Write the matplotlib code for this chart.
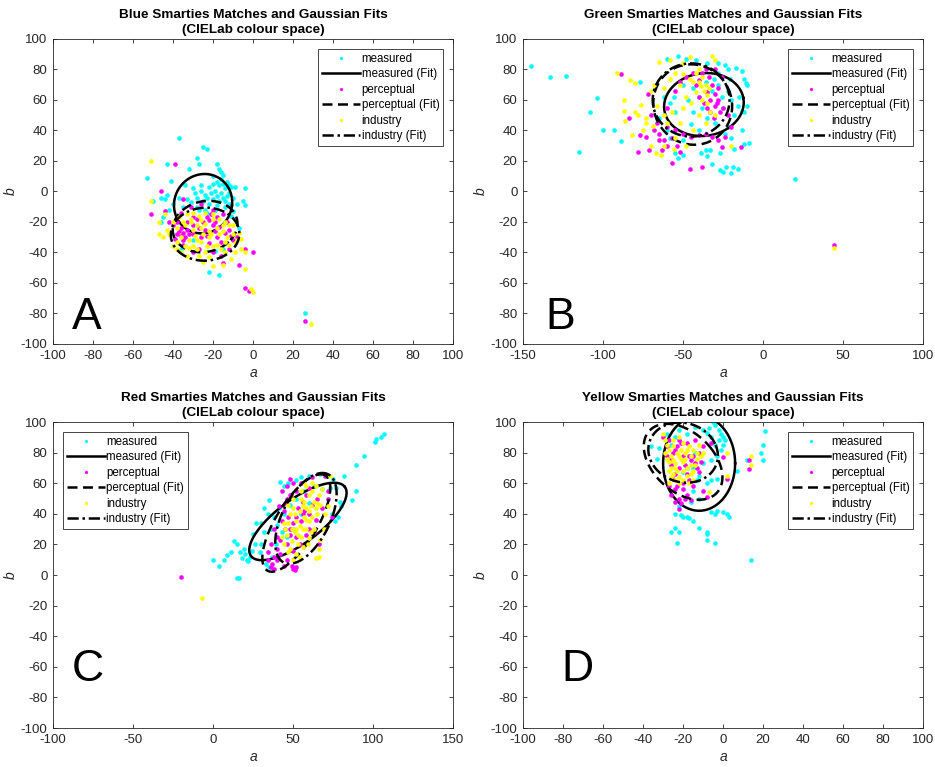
import numpy as np
import matplotlib
matplotlib.use("Agg")
import matplotlib.pyplot as plt

plt.rcParams['font.family'] = ['Liberation Sans', 'DejaVu Sans']
plt.rcParams['axes.unicode_minus'] = False

# ---------------- data (a, b) ----------------
blue_measured = [(-37,35),(-25,29),(-23,28),(-28,22),(-27,18),(-43,18),(-18,18),(-17,15),(-16,13),(-15,11),
    (-32,15),(-53,9),(-41,7),(-34,4),(-30,2),(-26,0),(-24,-2),(-22,3),(-20,5),(-18,6),(-17,4),(-19,0),(-16,-1),
    (-14,2),(-13,6),(-12,4),(-11,3),(-9,3),(-4,2),(-5,-6),(-4,-9),(-15,-4),(-17,-6),(-20,-5),(-22,-8),(-25,-6),
    (-28,-4),(-31,-7),(-33,-5),(-35,-10),(-37,-4),(-40,-8),(-43,-2),(-44,-5),(-46,-4),(-50,-6),(-42,-12),(-45,-17),
    (-46,-20),(-14,-10),(-12,-8),(-10,-13),(-9,-18),(-7,-24),(-11,-16),(-19,-12),(-24,-12),(-28,-10),(-19,-39),
    (-15,-38),(-22,-53),(-17,-55),(26,-80),(-36,-38),(-30,-32),(-21,-1),(-13,-3),(-18,-9),(-23,-4),(-16,8),(-20,10),
    (-27,-12),(-23,-14),(-14,-6),(-12,-1),(-10,-4),(-8,-8),(-15,5),(-18,-3),(-26,4),(-29,-1)]
blue_perceptual = [(-39,18),(-46,0),(-44,-13),(-51,-15),(-35,-5),(-36,-14),(-31,-10),(-26,-8),(-20,-12),(-15,-15),
    (-28,-18),(-25,-20),(-22,-19),(-20,-22),(-18,-17),(-24,-25),(-30,-22),(-33,-25),(-35,-27),(-36,-29),(-37,-26),
    (-34,-30),(-38,-28),(-36,-24),(-32,-28),(-30,-28),(-26,-30),(-22,-34),(-18,-30),(-14,-27),(-12,-25),(-10,-32),
    (-12,-38),(-16,-42),(-20,-40),(-27,-38),(-30,-40),(-40,-22),(-42,-20),(-4,-38),(0,-40),(-7,-48),(-4,-63),
    (-2,-65),(26,-85),(-15,-47),(-8,-30),(-23,-17),(-19,-20),(-21,-15),(-17,-23),(-35,-32),(-39,-31),
    (-30,-17),(-27,-24),(-23,-29),(-19,-26),(-16,-33),(-13,-20),(-11,-29),(-33,-20),(-38,-20),(-35,-35)]
blue_industry = [(-51,20),(-51,-6),(-47,-20),(-47,-28),(-45,-30),(-43,-25),(-40,-36),(-38,-33),(-36,-40),(-33,-42),
    (-30,-36),(-28,-38),(-25,-46),(-20,-49),(-15,-48),(-8,-32),(-6,-31),(-4,-40),(-4,-51),(0,-66),(-1,-64),(29,-87),
    (-40,-20),(-37,-17),(-33,-15),(-30,-14),(-27,-16),(-24,-14),(-20,-15),(-17,-18),(-14,-20),(-12,-22),(-18,-24),
    (-22,-26),(-26,-24),(-30,-25),(-34,-22),(-38,-24),(-36,-30),(-32,-32),(-26,-33),(-22,-30),(-18,-35),(-14,-33),
    (-10,-28),(-12,-35),(-16,-38),(-20,-36),(-24,-40),(-28,-32),(-10,-22),(-42,-28),(-34,-36),(-9,-40),(-6,-38),
    (-11,-44),(-44,-15),(-15,-26),(-24,-21),(-35,-20),(-31,-18),(-28,-22),(-25,-28),(-21,-28),(-17,-28),(-13,-30),
    (-9,-34),(-7,-27),(-15,-22),(-20,-18),(-26,-19),(-29,-29),(-32,-37),(-38,-38),(-27,-42),(-22,-43),(-14,-40),
    (-31,-20),(-23,-36)]

green_measured = [(-145,82),(-133,75),(-123,76),(-104,61),(-108,52),(-100,40),(-93,40),(-89,33),(-115,26),(20,8),
    (-77,72),(-60,87),(-53,89),(-48,87),(-42,86),(-35,84),(-28,84),(-24,83),(-22,80),(-17,81),(-13,79),(-12,74),
    (-11,71),(-10,70),(-15,62),(-13,53),(-16,56),(-18,50),(-13,40),(-12,31),(-9,32),(-18,28),(-20,35),(-19,16),
    (-16,15),(-25,13),(-27,14),(-23,16),(-20,12),(-32,18),(-27,25),(-33,27),(-36,27),(-35,23),(-39,25),(-50,24),
    (-53,22),(-55,25),(-50,34),(-45,44),(-47,60),(-62,62),(-58,58),(-55,52),(-50,70),(-44,68),(-40,62),(-38,55),
    (-35,48),(-32,66),(-28,70),(-26,62),(-25,55),(-30,45),(-22,42),(-24,38),(-40,40),(-65,48),(-60,40),(-58,35),
    (-56,62),(-44,52),(-20,60),(-22,66),(-28,78),(-36,72),(-10,56),(-12,52),(-21,74),(-31,74)]
green_perceptual = [(-89,77),(-84,48),(-78,26),(-73,36),(-77,37),(-71,27),(-72,64),(-70,50),(-65,34),(-63,27),
    (-60,30),(-57,19),(-52,26),(-46,15),(-38,16),(-26,29),(-14,29),(-57,35),(-65,38),(-60,42),(-55,40),(-50,38),
    (-45,36),(-40,37),(-36,38),(-32,36),(-28,34),(-24,36),(-20,42),(-22,50),(-25,55),(-28,60),(-30,64),(-32,70),
    (-34,75),(-36,80),(-38,78),(-40,73),(-42,70),(-35,65),(-33,60),(-30,56),(-35,55),(-37,58),(-40,62),(-28,68),
    (-26,75),(-30,80),(-44,78),(-48,75),(-52,72),(-55,66),(-60,55),(-66,45),(-68,40),(-62,34),(-54,30),(44,-35),
    (-33,52),(-31,48),(-29,58),(-27,52)]
green_industry = [(-91,78),(-83,73),(-80,71),(-76,57),(-78,50),(-80,52),(-87,60),(-87,53),(-86,46),(-82,37),
    (-73,45),(-73,48),(-69,43),(-62,68),(-65,85),(-58,86),(-50,84),(-46,88),(-32,89),(-30,86),(-52,70),(-40,72),
    (-35,63),(-20,30),(-57,52),(-64,24),(44,-37),(-66,56),(-62,50),(-60,45),(-58,74),(-55,78),(-50,77),(-46,74),
    (-44,72),(-42,78),(-40,80),(-38,75),(-36,70),(-42,65),(-38,60),(-35,58),(-33,52),(-40,50),(-45,58),(-48,62),
    (-50,55),(-52,45),(-55,35),(-48,30),(-44,40),(-30,50),(-36,45),(-70,66),(-68,70),(-75,40),(-70,30),(-67,25),
    (-56,28),(-62,30),(-37,66),(-34,68),(-39,69)]

red_measured = [(107,92),(105,90),(102,89),(101,87),(94,78),(89,72),(89,55),(87,49),(82,65),(78,38),(76,35),
    (74,40),(16,-2),(15,-2),(0,10),(4,6),(7,10),(9,13),(11,15),(13,22),(15,20),(17,15),(19,17),(21,10),(22,9),
    (24,16),(25,27),(27,34),(30,34),(32,44),(34,40),(35,49),(38,38),(41,44),(42,61),(44,58),(47,60),(52,62),
    (55,64),(60,65),(67,66),(71,65),(75,63),(77,57),(79,48),(80,45),(72,50),(60,47),(55,40),(50,30),(46,25),
    (33,7),(35,5),(37,12),(30,20),(29,15),(20,14),(23,12),(18,11),(26,20),(32,28),(36,30),(40,33),(44,40),
    (48,46),(52,50),(57,55),(63,58),(68,56),(73,57),(39,20),(43,28)]
red_perceptual = [(-20,-1),(50,4),(51,3),(52,5),(37,7),(34,15),(36,20),(40,10),(43,55),(45,47),(48,63),(50,60),
    (53,44),(55,35),(60,57),(62,64),(70,65),(72,55),(72,50),(74,38),(66,20),(60,30),(45,30),(42,23),(40,17),
    (38,12),(36,5),(42,14),(46,20),(48,26),(50,34),(52,38),(47,38),(44,42),(56,48),(58,52),(62,46),(65,50),
    (68,44),(64,36),(58,26),(54,20),(50,16),(46,10),(44,6),(55,60),(52,55),(48,52),(46,58),(57,42),(63,28),
    (40,25),(43,35),(48,30),(52,25),(56,40),(60,40),(46,50),(41,45),(38,30),(34,10),(38,4),(49,6)]
red_industry = [(-7,-15),(64,11),(66,12),(66,17),(67,23),(69,30),(70,40),(72,45),(73,65),(62,60),(58,58),(55,55),
    (50,50),(48,40),(45,30),(44,20),(47,15),(50,10),(53,20),(55,25),(58,30),(60,35),(62,38),(56,45),(52,35),
    (49,22),(51,28),(54,32),(57,38),(60,42),(63,48),(66,52),(68,56),(64,58),(60,52),(57,48),(54,42),(50,44),
    (47,34),(46,26),(52,14),(56,18),(60,24),(63,30),(65,40),(67,46),(61,28),(59,20),(48,17),(53,26),(58,36),
    (55,50),(58,44),(61,45),(64,44),(56,30),(52,30),(49,30),(47,46),(51,40),(57,60),(62,55),(65,47),(44,34),
    (43,25),(54,12)]

yellow_measured = [(21,94),(20,85),(19,80),(20,75),(14,10),(12,75),(7,68),(2,40),(3,38),(0,41),(-4,21),(-8,28),
    (-8,23),(-8,27),(-12,31),(-15,35),(-18,38),(-20,38),(-21,39),(-17,37),(-22,28),(-23,21),(-24,31),(-26,28),
    (-24,40),(-22,45),(-6,41),(-3,42),(-4,40),(-5,100),(-4,98),(-2,95),(0,90),(0,85),(1,88),(-1,82),(-6,90),
    (-8,93),(-10,95),(-14,97),(-18,92),(-22,95),(-24,90),(-26,85),(-32,83),(-36,84),(-33,76),(-28,92),(-14,80),
    (-10,73),(-15,70),(-12,65),(-8,60),(-3,63),(-6,62),(-15,55),(-12,50),(-16,48),(-13,62),(-20,67),(-18,70),
    (-2,88),(-4,85),(-1,92),(-7,96),(-3,78),(-6,75)]
yellow_perceptual = [(-30,90),(-27,88),(-25,80),(-23,84),(-20,78),(-28,78),(-22,70),(-24,66),(-26,72),(-18,66),
    (-16,75),(-12,80),(-10,84),(-14,73),(-12,67),(-20,56),(-18,52),(-22,50),(-24,48),(-21,47),(-16,49),(-22,43),
    (-8,51),(-10,55),(0,77),(2,63),(13,75),(13,69),(-6,86),(-25,63),(-20,60),(-15,58),(-24,56),(-26,52),(-18,86),
    (-14,88),(-22,88),(-28,84),(-19,72),(-17,62),(-26,76),(-24,82),(-21,86),(-17,78),(-15,78),(-13,70),(-11,74),
    (-27,58),(-23,58),(-19,50)]
yellow_industry = [(-30,92),(-29,88),(-28,85),(-27,82),(-26,78),(-25,75),(-26,70),(-25,66),(-24,62),(-22,60),
    (-20,62),(-18,65),(-15,68),(-14,72),(-16,78),(-18,82),(-20,86),(-22,90),(-25,88),(-10,80),(-12,85),(-20,74),
    (-22,78),(-18,70),(-16,72),(-24,73),(-27,60),(-7,54),(2,80),(2,65),(14,78),(14,72),(-15,62),(-17,60),
    (-28,76),(-27,68),(-21,82),(-13,76),(-19,76),(-23,68),(-29,80),(-27,74),(-25,84),(-23,80),(-21,76),(-19,80),
    (-17,84),(-15,82),(-13,80),(-11,78),(-16,66),(-20,68),(-22,64),(-24,70),(-26,64)]

# Gaussian fit ellipses: (centre a, centre b, width, height, angle deg)
blue_fits = [(-25, -8, 29, 39, -5), (-24, -23, 31, 35, -35), (-24, -28, 34, 35, -30)]
green_fits = [(-37, 57, 50, 41, 10), (-44, 57, 49, 53, 15), (-45, 60, 48, 48, 10)]
red_fits = [(53, 35, 74, 28, 38), (52, 34, 72, 26, 60), (58, 37, 64, 30, 65)]
yellow_fits = [(-12, 73, 36, 62, 0), (-20, 74, 33, 54, 30), (-20, 80, 34, 40, 20)]

titles = ['Blue Smarties Matches and Gaussian Fits\n(CIELab colour space)',
          'Green Smarties Matches and Gaussian Fits\n(CIELab colour space)',
          'Red Smarties Matches and Gaussian Fits\n(CIELab colour space)',
          'Yellow Smarties Matches and Gaussian Fits\n(CIELab colour space)']
panel_letters = ['A', 'B', 'C', 'D']
series_names = ['measured', 'perceptual', 'industry']
xlims = [(-100, 100), (-150, 100), (-100, 150), (-100, 100)]
xticks = [np.arange(-100, 101, 20), np.arange(-150, 101, 50), np.arange(-100, 151, 50), np.arange(-100, 101, 20)]
yticks = np.arange(-100, 101, 20)

# ---------------- drawing ----------------
colors = [(0, 1, 1), (1, 0, 1), (1, 1, 0)]
styles = [dict(ls='-'), dict(ls=(0, (4.0, 2.2))), dict(ls=(0, (4.5, 1.5, 1.0, 1.5)))]
axes_pos = [(0.0567, 0.5515, 0.428, 0.3977), (0.5594, 0.5515, 0.428, 0.3977),
            (0.0567, 0.0508, 0.428, 0.399), (0.5594, 0.0508, 0.428, 0.399)]
legend_loc = ['upper right', 'upper right', 'upper left', 'upper right']
letter_xy = [(-83, -90), (-127, -90), (-78, -69), (-73, -69)]

panels = [(blue_measured, blue_perceptual, blue_industry, blue_fits),
          (green_measured, green_perceptual, green_industry, green_fits),
          (red_measured, red_perceptual, red_industry, red_fits),
          (yellow_measured, yellow_perceptual, yellow_industry, yellow_fits)]

fig = plt.figure(figsize=(9.35, 7.67), dpi=100)
gray = (0.15, 0.15, 0.15)
t = np.linspace(0, 2 * np.pi, 300)
for i, (ms, ps, ins, fits) in enumerate(panels):
    ax = fig.add_axes(axes_pos[i])
    for k, pts in enumerate((ms, ps, ins)):
        arr = np.array(pts, dtype=float)
        ax.plot(arr[:, 0], arr[:, 1], 'o', ms=3.3, mec='none', mfc=colors[k],
                ls='none', label=series_names[k], zorder=2 + k)
        cx, cy, w, h, ang = fits[k]
        th = np.deg2rad(ang)
        ex = w / 2 * np.cos(t)
        ey = h / 2 * np.sin(t)
        xs = cx + ex * np.cos(th) - ey * np.sin(th)
        ys = cy + ex * np.sin(th) + ey * np.cos(th)
        ax.plot(xs, ys, color='k', lw=1.8, label=series_names[k] + ' (Fit)', zorder=2 + k, **styles[k])
    ax.set_xlim(*xlims[i])
    ax.set_ylim(-100, 100)
    ax.set_xticks(xticks[i])
    ax.set_yticks(yticks)
    ax.tick_params(direction='in', top=True, right=True, length=3, width=0.6,
                   labelsize=9.5, colors=gray, labelcolor=gray, pad=4)
    for sp in ax.spines.values():
        sp.set_color(gray)
        sp.set_linewidth(0.6)
    ax.set_xlabel('a', fontstyle='italic', fontsize=10, color=gray, labelpad=3)
    ax.set_ylabel('b', fontstyle='italic', fontsize=10, color=gray, labelpad=2)
    ax.set_title(titles[i], fontsize=9.7, fontweight='bold', color='k', pad=4, linespacing=1.35)
    ax.text(letter_xy[i][0], letter_xy[i][1], panel_letters[i], fontsize=32, ha='center', va='baseline')
    leg = ax.legend(loc=legend_loc[i], fontsize=8.3, handlelength=3.3, handletextpad=0.1, labelspacing=0.3,
                    borderaxespad=0.85, borderpad=0.35, fancybox=False, framealpha=1, markerscale=0.7,
                    numpoints=1)
    leg.get_frame().set_edgecolor(gray)
    leg.get_frame().set_linewidth(0.6)

fig.savefig('out.png', dpi=100)
